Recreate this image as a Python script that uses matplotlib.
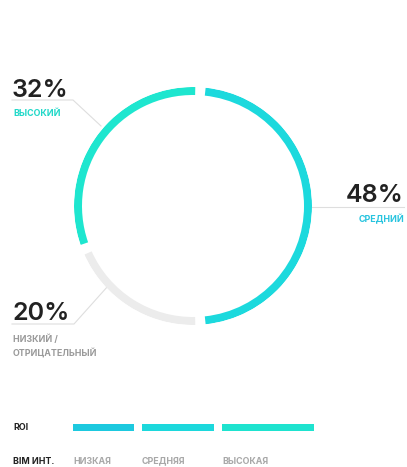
import matplotlib
matplotlib.use("Agg")
import matplotlib.pyplot as plt
import numpy as np

# ---- data ----
segments = ["СРЕДНИЙ", "НИЗКИЙ /\nОТРИЦАТЕЛЬНЫЙ", "ВЫСОКИЙ"]
shares = [48, 20, 32]
seg_colors = ["#1cd9dd", "#ececec", "#1ee6cf"]
label_colors = ["#28c4df", "#9a9a9a", "#20d8c8"]

roi_levels = ["НИЗКАЯ", "СРЕДНЯЯ", "ВЫСОКАЯ"]
roi_lengths = [61, 72, 92]
roi_colors = ["#1dc9df", "#1cd8dc", "#1ee3cf"]

W, H = 407, 467
fig = plt.figure(figsize=(W / 100, H / 100), dpi=100)
fig.patch.set_facecolor("white")
FONT = ["Inter", "DejaVu Sans"]

# overlay axes in pixel coordinates
ov = fig.add_axes([0, 0, 1, 1])
ov.set_xlim(0, W)
ov.set_ylim(H, 0)
ov.axis("off")

# ---- ring ----
cx, cy, R, ring_w = 193, 206, 119, 8
pax = fig.add_axes([(cx - R) / W, (H - cy - R) / H, 2 * R / W, 2 * R / H],
                   projection="polar")
pax.set_theta_zero_location("N")
pax.set_theta_direction(-1)
pax.set_ylim(0, R)
pax.axis("off")
gap = np.deg2rad(5.0)
total = sum(shares)
start = np.deg2rad(90) - np.pi * shares[0] / total  # centre first segment at 3 o'clock
for v, c in zip(shares, seg_colors):
    span = 2 * np.pi * v / total
    pax.bar(start + span / 2, ring_w, width=span - gap, bottom=R - ring_w,
            color=c, edgecolor="none", align="center")
    start += span

# ---- labels ----
line_c = "#dedede"
NUM = dict(fontsize=18, color="#222222", family=FONT, fontweight="semibold")
SMALL = 6.4
# high (32%)
ov.text(12, 97, f"{shares[2]}%", ha="left", va="baseline", **NUM)
ov.plot([12, 73, 101], [100, 100, 126], color=line_c, lw=0.8)
ov.text(13, 114, segments[2], fontsize=SMALL, color=label_colors[2], family=FONT,
        fontweight="bold", ha="left", va="center")
# medium (48%)
ov.text(404, 202, f"{shares[0]}%", ha="right", va="baseline", **NUM)
ov.plot([312, 404], [207, 207], color=line_c, lw=0.8)
ov.text(404, 219, segments[0], fontsize=SMALL, color=label_colors[0], family=FONT,
        fontweight="bold", ha="right", va="center")
# low (20%)
ov.text(12, 320, f"{shares[1]}%", ha="left", va="baseline", **NUM)
ov.plot([12, 74, 108], [324, 324, 286], color=line_c, lw=0.8)
ov.text(13, 346, segments[1], fontsize=SMALL, color=label_colors[1], family=FONT,
        fontweight="bold", ha="left", va="center", linespacing=1.45)

# ---- ROI scale ----
x0, bgap = 73, 8
left = x0
lefts = []
for L in roi_lengths:
    lefts.append(left)
    left += L + bgap
ov.barh([427] * len(roi_lengths), roi_lengths, left=lefts, height=7,
        color=roi_colors, edgecolor="none")
ov.text(13, 427, "ROI", fontsize=SMALL, color="#222222", family=FONT,
        fontweight="bold", ha="left", va="center")
ov.text(13, 461, "BIM ИНТ.", fontsize=SMALL, color="#222222", family=FONT,
        fontweight="bold", ha="left", va="center")
for lx, name in zip(lefts, roi_levels):
    ov.text(lx, 461, name, fontsize=SMALL, color="#a8a8a8", family=FONT,
            fontweight="bold", ha="left", va="center")

fig.savefig("out.png", dpi=100, facecolor="white")
